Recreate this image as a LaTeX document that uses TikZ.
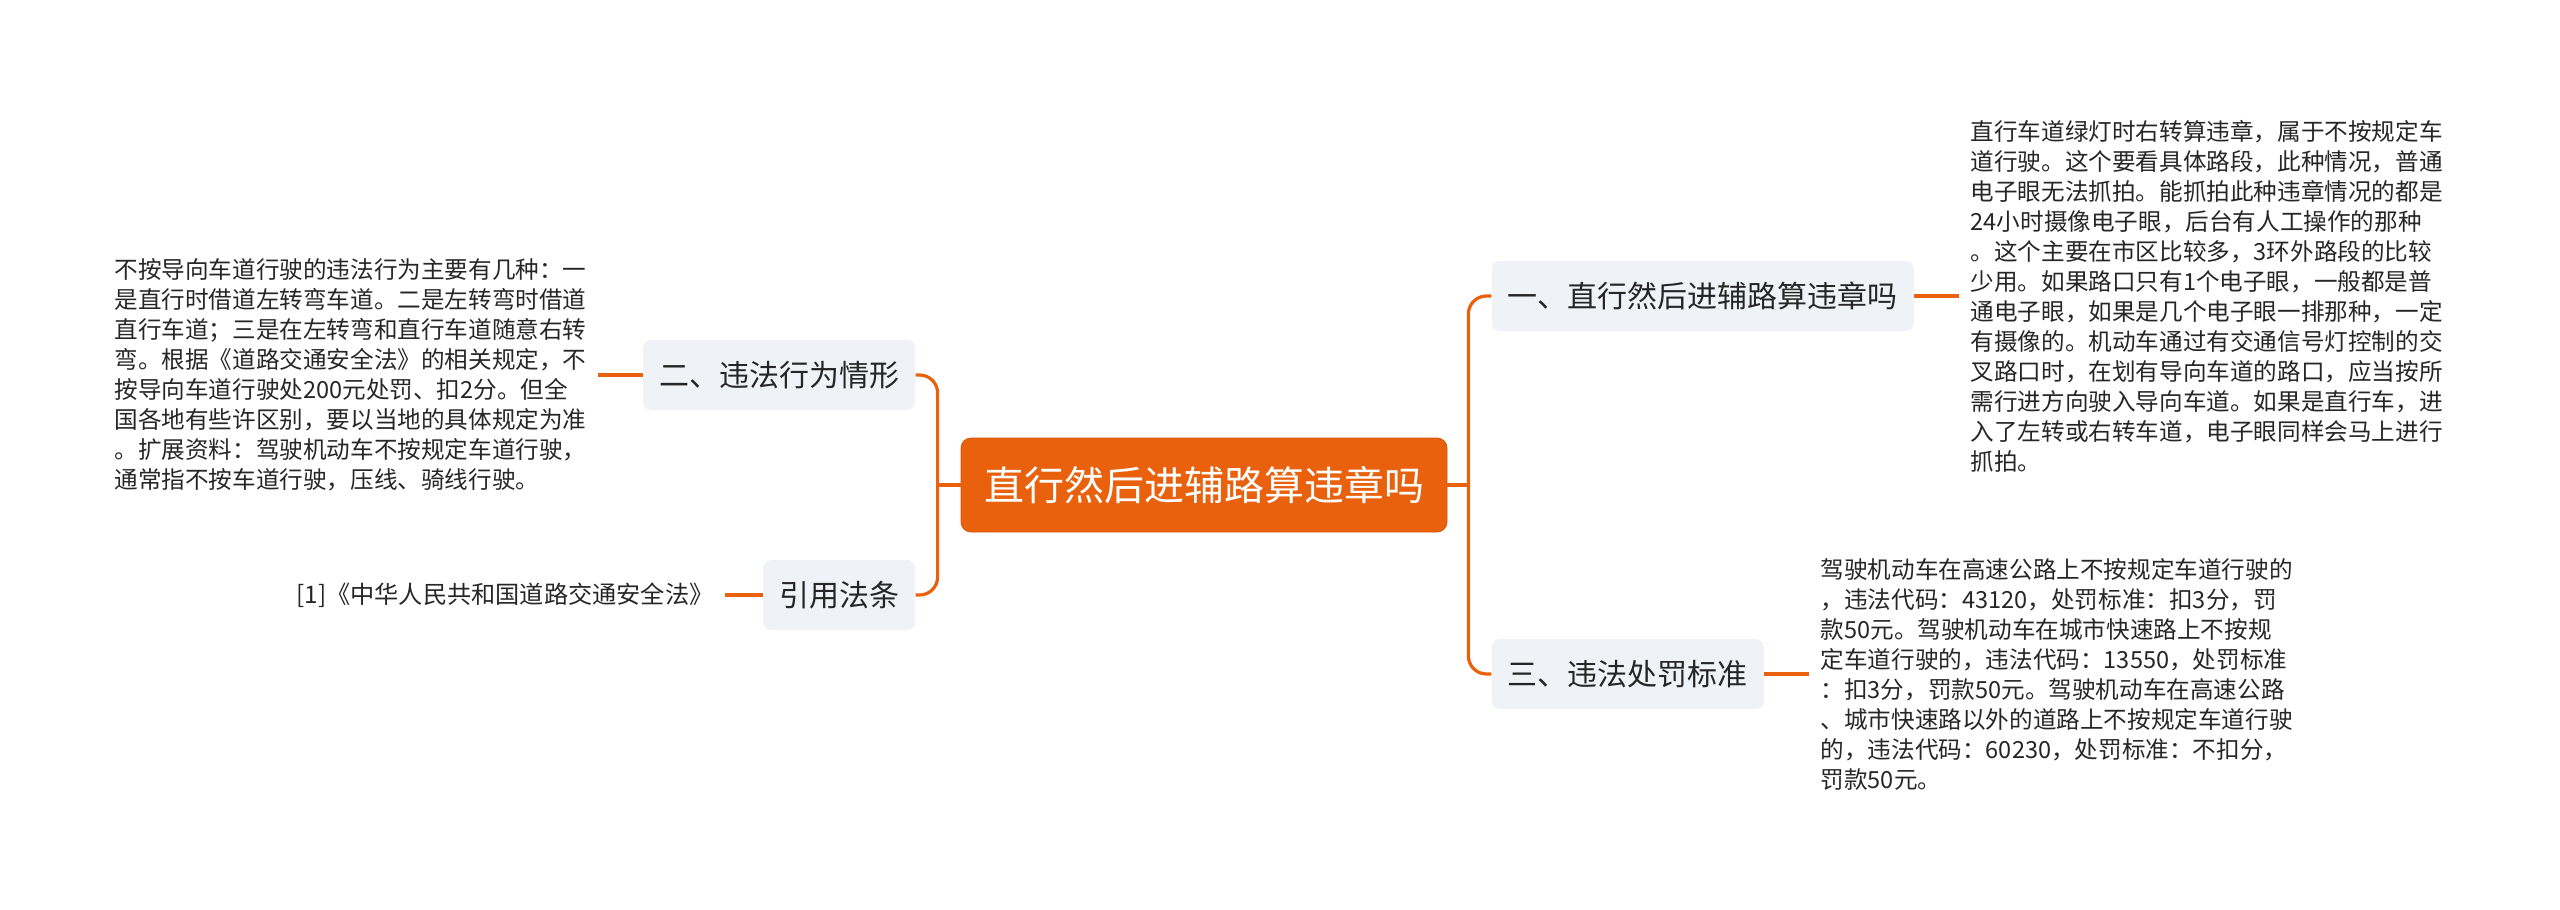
\documentclass[tikz,border=0pt]{standalone}
\usepackage{fontspec}
\usepackage{xcolor}
\usepackage{tikz}
\usetikzlibrary{positioning}

\newfontfamily\cjk{Noto Sans CJK SC}
\definecolor{mmorange}{RGB}{233,97,12}
\definecolor{mmgray}{RGB}{239,242,246}
\definecolor{mmtext}{RGB}{38,38,38}

\begin{document}
\begin{tikzpicture}[
    every node/.style={font=\cjk, text=mmtext},
    root/.style={fill=mmorange, draw=mmorange!90!black, rounded corners=5pt, minimum width=243pt, minimum height=47pt, text=white, font=\cjk\fontsize{20}{24}\selectfont},
    topic/.style={fill=mmgray, rounded corners=4pt, minimum height=35pt, inner xsep=8pt, font=\cjk\fontsize{15}{18}\selectfont},
    leaf/.style={align=left, inner xsep=5.5pt, inner ysep=0pt, font=\cjk\fontsize{11.8}{15}\selectfont},
    link/.style={draw=mmorange, line width=1.6pt, rounded corners=9pt},
]
\useasboundingbox (0,0) rectangle (1280pt,-455pt);

% === ROOT ===
\node[root] (root) at (602pt,-242.5pt) {直行然后进辅路算违章吗};

% === RIGHT SIDE ===
\node[topic, anchor=west] (t1) at ([xshift=22pt, yshift=94.5pt]root.east) {一、直行然后进辅路算违章吗};
\node[topic, anchor=west] (t3) at ([xshift=22pt, yshift=-94.5pt]root.east) {三、违法处罚标准};

\node[leaf, right=22.5pt of t1] (l1) {直行车道绿灯时右转算违章，属于不按规定车\\道行驶。这个要看具体路段，此种情况，普通\\电子眼无法抓拍。能抓拍此种违章情况的都是\\24小时摄像电子眼，后台有人工操作的那种\\。这个主要在市区比较多，3环外路段的比较\\少用。如果路口只有1个电子眼，一般都是普\\通电子眼，如果是几个电子眼一排那种，一定\\有摄像的。机动车通过有交通信号灯控制的交\\叉路口时，在划有导向车道的路口，应当按所\\需行进方向驶入导向车道。如果是直行车，进\\入了左转或右转车道，电子眼同样会马上进行\\抓拍。};
\node[leaf, right=22.5pt of t3] (l3) {驾驶机动车在高速公路上不按规定车道行驶的\\，违法代码：43120，处罚标准：扣3分，罚\\款50元。驾驶机动车在城市快速路上不按规\\定车道行驶的，违法代码：13550，处罚标准\\：扣3分，罚款50元。驾驶机动车在高速公路\\、城市快速路以外的道路上不按规定车道行驶\\的，违法代码：60230，处罚标准：不扣分，\\罚款50元。};

\coordinate (rj) at ([xshift=10.5pt]root.east);
\draw[link] (root.east) -- (rj);
\draw[link] (rj) |- (t1.west);
\draw[link] (rj) |- (t3.west);
\draw[link] (t1) -- (l1);
\draw[link] (t3) -- (l3);

% === LEFT SIDE ===
\node[topic, anchor=east] (t2) at ([xshift=-22.5pt, yshift=55pt]root.west) {二、违法行为情形};
\node[topic, anchor=east] (t4) at ([xshift=-22.5pt, yshift=-55pt]root.west) {引用法条};

\node[leaf, left=22.5pt of t2] (l2) {不按导向车道行驶的违法行为主要有几种：一\\是直行时借道左转弯车道。二是左转弯时借道\\直行车道；三是在左转弯和直行车道随意右转\\弯。根据《道路交通安全法》的相关规定，不\\按导向车道行驶处200元处罚、扣2分。但全\\国各地有些许区别，要以当地的具体规定为准\\。扩展资料：驾驶机动车不按规定车道行驶，\\通常指不按车道行驶，压线、骑线行驶。};
\node[leaf, left=19pt of t4, font=\cjk\fontsize{12.1}{15}\selectfont] (l4) {[1]《中华人民共和国道路交通安全法》};

\coordinate (lj) at ([xshift=-11.5pt]root.west);
\draw[link] (root.west) -- (lj);
\draw[link] (lj) |- (t2.east);
\draw[link] (lj) |- (t4.east);
\draw[link] (t2) -- (l2);
\draw[link] (t4) -- (l4);

\end{tikzpicture}
\end{document}
